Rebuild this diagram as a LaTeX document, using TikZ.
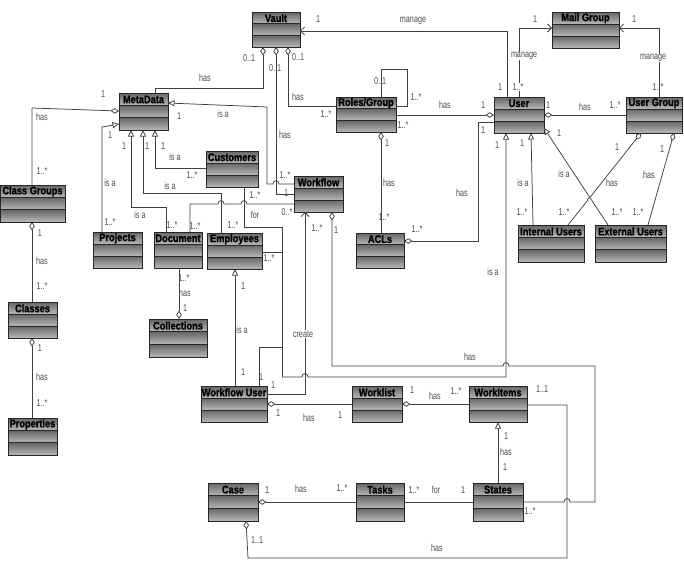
\documentclass[tikz,border=0pt]{standalone}
\usepackage{fontspec}
\setmainfont{Liberation Sans}
\newfontfamily\ttlfam[FakeStretch=0.84,FakeBold=1.3]{Liberation Sans Bold}
\newfontfamily\lblfam[FakeStretch=0.72]{Liberation Sans}
\usetikzlibrary{arrows.meta}
\definecolor{cTop}{gray}{0.40}
\definecolor{cBot}{gray}{0.72}
\newcounter{lbc}
\tikzset{
  clsbox/.style={draw=black!85, line width=0.8pt, rectangle, inner sep=0pt, outer sep=0pt},
  sepline/.style={draw=black!85, line width=0.7pt},
  ttl/.style={font=\ttlfam\fontsize{11}{11}\selectfont, text=black, inner sep=0pt},
  lbl/.style={font=\lblfam\fontsize{10}{10}\selectfont, text=black!70, inner sep=0.6pt},
  lblw/.style={lbl, fill=white},
  conn/.style={draw=black!75, line width=0.75pt},
  agg/.style={conn, arrows={Diamond[open,length=8.5pt,width=5.5pt]-}},
  gen/.style={conn, arrows={-Triangle[open,length=6.5pt,width=6pt]}},
  nav/.style={conn, arrows={-Straight Barb[length=4pt,width=8pt]}},
}
\newcommand\umlclass[6]{%
  \shade[top color=cTop,bottom color=cBot] ({#2},{#3}) rectangle ({#4},{#3+(#5-#3)/3});
  \shade[top color=cTop,bottom color=cBot] ({#2},{#3+(#5-#3)/3}) rectangle ({#4},{#3+2*(#5-#3)/3});
  \shade[top color=cTop,bottom color=cBot] ({#2},{#3+2*(#5-#3)/3}) rectangle ({#4},{#5});
  \draw[sepline] ({#2},{#3+(#5-#3)/3}) -- ({#4},{#3+(#5-#3)/3})
                 ({#2},{#3+2*(#5-#3)/3}) -- ({#4},{#3+2*(#5-#3)/3});
  \node[clsbox, minimum width={(#4-#2)*1pt}, minimum height={(#5-#3)*1pt}] (#1) at ({(#2+#4)/2},{(#3+#5)/2}) {};
  \node[ttl] (#1t) at ({(#2+#4)/2},{#3+(#5-#3)/6+0.3}) {#6};
}
\newcommand\tlab[3]{\stepcounter{lbc}\node[lbl] (lab\arabic{lbc}) at (#1,#2) {#3};}
\newcommand\tlabw[3]{\stepcounter{lbc}\node[lblw] (lab\arabic{lbc}) at (#1,#2) {#3};}
% hop on a horizontal line, drawn left to right / right to left
\newcommand\hopr[2]{-- ({#1-3},#2) .. controls ({#1-3},{#2-4.5}) and ({#1+3},{#2-4.5}) .. ({#1+3},#2)}
\newcommand\hopl[2]{-- ({#1+3},#2) .. controls ({#1+3},{#2-4.5}) and ({#1-3},{#2-4.5}) .. ({#1-3},#2)}

\begin{document}
\begin{tikzpicture}[x=1pt,y=-1pt]
\useasboundingbox (0,0) rectangle (684,565);
\fill[white] (0,0) rectangle (684,565);

% ---------- classes ----------
\umlclass{Vault}{252}{12}{300}{47}{Vault}
\umlclass{MailGroup}{552}{12}{619}{48}{Mail Group}
\umlclass{MetaData}{119}{93}{168}{130}{MetaData}
\umlclass{RolesGroup}{336}{97}{396}{132}{Roles/Group}
\umlclass{User}{494}{97}{544}{133}{User}
\umlclass{UserGroup}{626}{97}{682}{133}{User Group}
\umlclass{Customers}{206}{151}{258}{187}{Customers}
\umlclass{Workflow}{294}{176}{343}{212}{Workflow}
\umlclass{ClassGroups}{0}{185}{65}{222}{Class Groups}
\umlclass{Projects}{93}{232}{142}{268}{Projects}
\umlclass{Document}{154}{232}{202}{268}{Document}
\umlclass{Employees}{207}{233}{262}{269}{Employees}
\umlclass{ACLs}{356}{233}{404}{268}{ACLs}
\umlclass{InternalUsers}{518}{225}{584}{262}{Internal Users}
\umlclass{ExternalUsers}{595}{225}{666}{262}{External Users}
\umlclass{Collections}{149}{319}{207}{357}{Collections}
\umlclass{Classes}{8}{302}{57}{338}{Classes}
\umlclass{Properties}{8}{418}{57}{455}{Properties}
\umlclass{WorkflowUser}{201}{386}{267}{422}{Workflow User}
\umlclass{Worklist}{352}{386}{402}{422}{Worklist}
\umlclass{WorkItems}{469}{386}{527}{422}{WorkItems}
\umlclass{Case}{208}{483}{258}{521}{Case}
\umlclass{Tasks}{356}{483}{404}{521}{Tasks}
\umlclass{States}{473}{483}{523}{521}{States}

% ---------- connectors ----------
% manage
\draw[nav] (User.north-|507,0) -- (507,31) -- (Vault.east|-0,31);
\draw[nav] (User.north-|519,0) -- (519,28) -- (MailGroup.west|-0,28);
\draw[nav] (UserGroup.north-|659,0) -- (659,28) -- (MailGroup.east|-0,28);
% has (User - User Group, Roles - User)
\draw[agg] (User.east|-0,115) -- (UserGroup.west|-0,115);
\draw[agg] (User.west|-0,115) -- (RolesGroup.east|-0,115);
% Roles/Group self loop
\draw[conn] (RolesGroup.north-|381,0) -- (381,69) -- (407,69) -- (407,106) -- (RolesGroup.east|-0,106);
% Vault aggregations
\draw[agg] (Vault.south-|288,0) -- (288,106) -- (RolesGroup.west|-0,106);
\draw[agg] (Vault.south-|263,0) -- (263,88) -- (155,88) -- (MetaData.north-|155,0);
\draw[agg] (Vault.south-|276,0) -- (276,194) -- (Workflow.west|-0,194);
% Workflow is a MetaData
\draw[gen] (Workflow.west|-0,184) \hopl{276}{184} -- (267,184) -- (267,107) -- (MetaData.east|-0,103);
% Document - Workflow
\draw[conn] (Document.north-|190,0) -- (190,204) \hopr{221}{204} \hopr{244}{204} -- (Workflow.west|-0,204);
% Class Groups has MetaData
\draw[agg] (MetaData.west|-0,111) -- (32,108) -- (ClassGroups.north-|32,0);
% is a MetaData
\draw[gen] (Projects.north-|102,0) -- (102,127) -- (MetaData.west|-0,124);
\draw[gen] (Document.north-|166,0) -- (166,207) -- (131,207) -- (MetaData.south-|131,0);
\draw[gen] (Employees.north-|221,0) -- (221,193) -- (143,193) -- (MetaData.south-|143,0);
\draw[gen] (Customers.west|-0,168) -- (155,168) -- (MetaData.south-|155,0);
% Customers for Employees
\draw[conn] (Customers.south-|244,0) -- (244,227) -- (282,227) -- (282,377);
\draw[conn] (Employees.east|-0,252) -- (282,252);
\draw[conn] (WorkflowUser.north-|259,0) -- (259,347) -- (282,347);
% is a User
\draw[gen] (282,377) \hopr{305}{377} -- (506,377) -- (User.south-|506,0);
% ACLs
\draw[agg] (RolesGroup.south-|381,0) -- (ACLs.north-|381,0);
\draw[agg] (ACLs.east|-0,241) -- (478,241) -- (478,122) -- (User.west|-0,122);
% Internal / External users
\draw[gen] (InternalUsers.north-|533,0) -- (User.south-|531,0);
\draw[gen] (ExternalUsers.north-|608,0) -- (User.east|-0,128);
\draw[agg] (UserGroup.south-|641,0) -- (592.6,194.1) .. controls (591,198) and (586.5,198) .. (587.8,200.2) -- (InternalUsers.north-|568,0);
\draw[agg] (UserGroup.south-|674,0) -- (ExternalUsers.north-|648,0);
% Document has Collections
\draw[agg] (Collections.north-|179,0) -- (Document.south-|179,0);
% Class groups / classes / properties
\draw[agg] (ClassGroups.south-|32,0) -- (Classes.north-|32,0);
\draw[agg] (Classes.south-|32,0) -- (Properties.north-|32,0);
% Workflow User is a Employees
\draw[gen] (WorkflowUser.north-|235,0) -- (Employees.south-|235,0);
% create
\draw[nav] (WorkflowUser.east|-0,394) -- (305,394) -- (Workflow.south-|305,0);
% Workflow has States
\draw[agg] (Workflow.south-|332,0) -- (332,366) \hopr{506}{366} -- (595,366) -- (595,502) \hopl{567}{502} -- (States.east|-0,502);
% Workflow User / Worklist / WorkItems
\draw[agg] (WorkflowUser.east|-0,404) -- (Worklist.west|-0,404);
\draw[agg] (Worklist.east|-0,404) -- (WorkItems.west|-0,404);
\draw[gen] (States.north-|498,0) -- (WorkItems.south-|498,0);
% Case
\draw[agg] (Case.east|-0,502) -- (Tasks.west|-0,502);
\draw[conn] (Tasks.east|-0,502) -- (States.west|-0,502);
\draw[agg] (Case.south-|246,0) -- (248,558) -- (567,558) -- (567,405) -- (WorkItems.east|-0,405);

% ---------- labels ----------
\tlab{318}{19}{1} \tlab{413}{21}{manage}
\tlab{535}{19}{1} \tlabw{524}{56}{manage}
\tlab{634}{19}{1} \tlabw{653}{58}{manage}
\tlab{500}{87}{1} \tlabw{518}{87}{1..*} \tlab{658}{87}{1..*}
\tlab{548}{105}{1} \tlab{585}{107}{has} \tlab{615}{105}{1..*}
\tlab{445}{105}{has} \tlab{483}{105}{1} \tlab{403}{125}{1..*}
\tlab{380}{81}{0..1} \tlab{416}{97}{1..*}
\tlab{298}{57}{0..1} \tlab{298}{97}{has} \tlab{326}{114}{1..*}
\tlab{249}{58}{0..1} \tlab{205}{78}{has}
\tlab{275}{68}{0..1} \tlab{285}{135}{has} \tlab{285}{175}{1..*} \tlab{286}{193}{1} \tlab{287}{212}{0..*}
\tlab{179}{116}{1} \tlab{223}{114}{is a}
\tlab{103}{94}{1} \tlab{42}{117}{has} \tlab{42}{171}{1..*}
\tlab{110}{135}{1} \tlab{110}{183}{is a} \tlab{110}{222}{1..*}
\tlab{124}{146}{1} \tlab{140}{215}{is a} \tlab{172}{225}{1..*}
\tlab{147}{146}{1} \tlab{170}{186}{is a} \tlab{233}{225}{1..*}
\tlab{163}{146}{1} \tlab{175}{157}{is a} \tlab{192}{175}{1..*}
\tlab{195}{226}{1..*}
\tlab{255}{195}{1..*} \tlab{255}{215}{for} \tlab{269}{258}{1..*}
\tlab{387}{143}{1} \tlab{389}{183}{has} \tlab{384}{217}{1..*}
\tlab{417}{229}{1..*} \tlab{462}{193}{has} \tlab{483}{130}{1}
\tlab{497}{145}{1} \tlab{522}{143}{1} \tlab{523}{183}{is a} \tlab{522}{212}{1..*}
\tlab{493}{272}{is a}
\tlab{559}{133}{1} \tlab{564}{174}{is a} \tlab{617}{212}{1..*}
\tlab{617}{147}{1} \tlab{612}{183}{has} \tlab{564}{212}{1..*}
\tlab{662}{149}{1} \tlab{649}{175}{has} \tlab{638}{212}{1..*}
\tlab{184}{278}{1..*} \tlab{185}{293}{has} \tlab{185}{308}{1}
\tlab{40}{233}{1} \tlab{42}{261}{has} \tlab{42}{286}{1..*}
\tlab{40}{348}{1} \tlab{42}{377}{has} \tlab{42}{403}{1..*}
\tlab{243}{286}{1} \tlab{242}{330}{is a} \tlab{243}{372}{1}
\tlab{261}{377}{1} \tlab{273}{385}{1}
\tlabw{303}{334}{create} \tlab{317}{228}{1..*} \tlab{336}{230}{1}
\tlab{470}{357}{has} \tlab{530}{511}{1..*}
\tlab{278}{413}{1} \tlab{309}{418}{has} \tlab{340}{415}{1}
\tlab{412}{390}{1} \tlab{435}{396}{has} \tlab{456}{391}{1..*}
\tlab{506}{436}{1} \tlab{506}{452}{has} \tlab{505}{467}{1}
\tlab{267}{490}{1} \tlab{301}{489}{has} \tlab{342}{488}{1..*}
\tlab{414}{490}{1..*} \tlab{436}{490}{for} \tlab{463}{490}{1}
\tlab{257}{540}{1..1} \tlab{437}{548}{has} \tlab{542}{389}{1..1}
\end{tikzpicture}
\end{document}
